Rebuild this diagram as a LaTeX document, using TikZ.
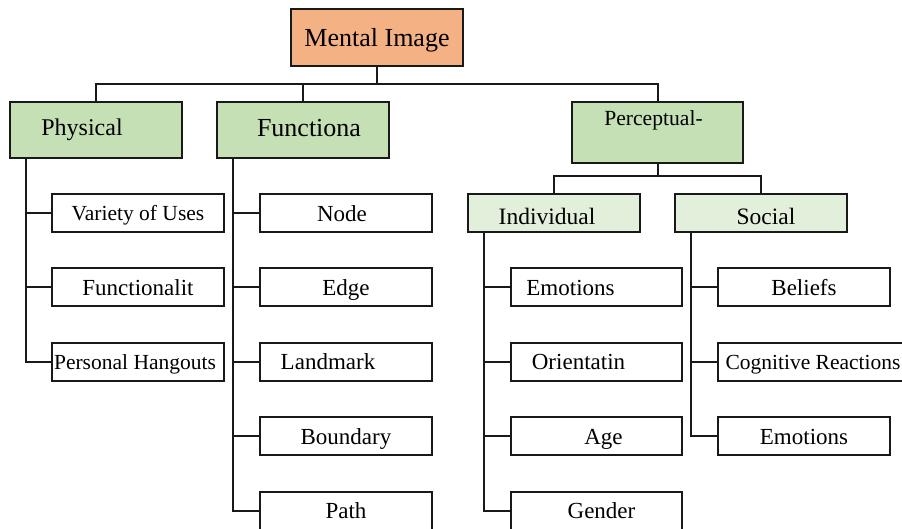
\documentclass[tikz,border=0pt]{standalone}
\usepackage{fontspec}
\setmainfont{Liberation Serif}
\usetikzlibrary{positioning}

\definecolor{topfill}{HTML}{F4B183}
\definecolor{midfill}{HTML}{C5E0B4}
\definecolor{lowfill}{HTML}{E2EFDA}

\tikzset{
    box/.style={draw=black!90, line width=2pt, minimum width=172pt, minimum height=38pt,
        inner sep=0pt, text depth=0pt},
    topbox/.style={box, fill=topfill, minimum height=57pt, text height=18.2pt,
        font=\fontsize{26}{30}\selectfont},
    midbox/.style={box, fill=midfill, minimum height=56pt, text height=11pt,
        font=\fontsize{24}{28}\selectfont},
    subbox/.style={box, fill=lowfill, text height=22.5pt, font=\fontsize{23.5}{27}\selectfont},
    leaf/.style={box, fill=white, text height=16.2pt, font=\fontsize{23}{27}\selectfont},
    smallleaf/.style={leaf, text height=15.2pt, font=\fontsize{21.5}{25}\selectfont},
    % moves the label sideways by half the given amount
    nudge/.style={execute at begin node={\hspace*{#1}}},
    link/.style={draw=black!90, line width=2pt}
}

\begin{document}
\begin{tikzpicture}[x=1pt, y=-1pt]
    \useasboundingbox (0,0) rectangle (902,529);

    % Root
    \node[topbox] (mental) at (377,37.5) {Mental Image};

    % Level 1
    \node[midbox, nudge=-28pt] (physical) at (96,130) {Physical};
    \node[midbox, nudge=12pt, text height=13.8pt, font=\fontsize{26}{30}\selectfont]
        (functional) at (303,130) {Functiona};
    \node[midbox, nudge=-8pt, minimum width=171pt, minimum height=61pt, text height=14.3pt,
          text depth=28pt, font=\fontsize{21.6}{26}\selectfont] (perceptual) at (657.5,132.5) {Perceptual-};

    % Level 2 under Perceptual-
    \node[subbox, nudge=-14pt] (individual) at (554,213) {Individual};
    \node[subbox, nudge=10pt] (social) at (761,213) {Social};

    % Leaves under Physical
    \node[smallleaf] (variety) at (138,213) {Variety of Uses};
    \node[leaf] (functionalit) at (138,287.5) {Functionalit};
    \node[smallleaf, nudge=-6pt] (hangouts) at (138,361.5) {Personal Hangouts};

    % Leaves under Functiona
    \node[leaf, nudge=-8pt] (node) at (346,213) {Node};
    \node[leaf] (edge) at (346,287.5) {Edge};
    \node[leaf, nudge=-36pt] (landmark) at (346,361.5) {Landmark};
    \node[leaf] (boundary) at (346,436) {Boundary};
    \node[leaf] (path) at (346,510.5) {Path};

    % Leaves under Individual
    \node[leaf, nudge=-52pt, minimum width=171pt] (emotionsA) at (596.5,287) {Emotions};
    \node[leaf, nudge=-36pt, minimum width=171pt] (orientatin) at (596.5,361.5) {Orientatin};
    \node[leaf, nudge=14pt, minimum width=171pt] (age) at (596.5,436) {Age};
    \node[leaf, nudge=10pt, minimum width=171pt] (gender) at (596.5,510.5) {Gender};

    % Leaves under Social
    \node[leaf] (beliefs) at (804,287) {Beliefs};
    \node[smallleaf, minimum width=190pt] (cognitive) at (813,361.5) {Cognitive Reactions};
    \node[leaf] (emotionsB) at (804,436) {Emotions};

    % Root bar
    \coordinate (rootbar) at (377,84);
    \draw[link] (mental.south) -- (rootbar);
    \draw[link] (physical.north) |- (rootbar) -| (perceptual.north);
    \draw[link] (functional.north) -- (functional.north |- rootbar);

    % Perceptual bar
    \coordinate (percbar) at (657.5,176);
    \draw[link] (perceptual.south) -- (percbar);
    \draw[link] (individual.north) |- (percbar) -| (social.north);

    % Spines
    \draw[link] ([xshift=17pt]physical.south west) |- (variety.west);
    \draw[link] ([xshift=17pt]physical.south west) |- (functionalit.west);
    \draw[link] ([xshift=17pt]physical.south west) |- (hangouts.west);

    \draw[link] ([xshift=17pt]functional.south west) |- (node.west);
    \draw[link] ([xshift=17pt]functional.south west) |- (edge.west);
    \draw[link] ([xshift=17pt]functional.south west) |- (landmark.west);
    \draw[link] ([xshift=17pt]functional.south west) |- (boundary.west);
    \draw[link] ([xshift=17pt]functional.south west) |- (path.west);

    \draw[link] ([xshift=17pt]individual.south west) |- (emotionsA.west);
    \draw[link] ([xshift=17pt]individual.south west) |- (orientatin.west);
    \draw[link] ([xshift=17pt]individual.south west) |- (age.west);
    \draw[link] ([xshift=17pt]individual.south west) |- (gender.west);

    \draw[link] ([xshift=17pt]social.south west) |- (beliefs.west);
    \draw[link] ([xshift=17pt]social.south west) |- (cognitive.west);
    \draw[link] ([xshift=17pt]social.south west) |- (emotionsB.west);
\end{tikzpicture}
\end{document}
